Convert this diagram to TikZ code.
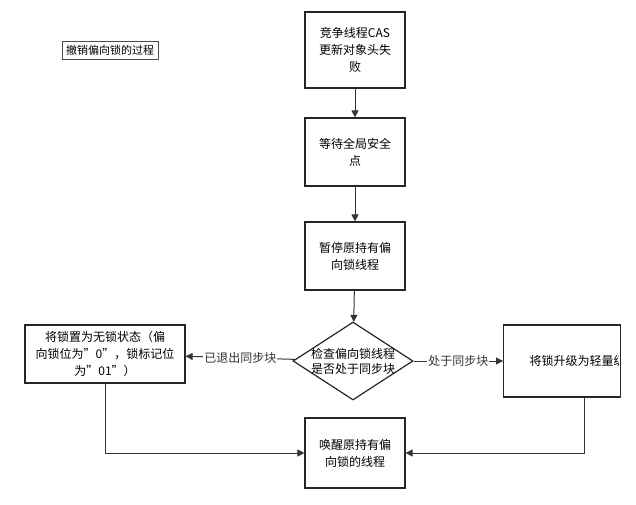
\documentclass[tikz,border=0pt]{standalone}
\usepackage{fontspec}
\setmainfont{Noto Sans CJK SC}
\usetikzlibrary{shapes.geometric,arrows.meta}
\begin{document}
\begin{tikzpicture}[x=1pt,y=-1pt,
  box/.style={draw=black!85,line width=1.2pt,fill=white,align=center,font=\fontsize{12}{17}\selectfont,inner sep=2pt},
  arr/.style={-{Triangle[length=7pt,width=7pt]},line width=1pt,black!80},
  lab/.style={font=\fontsize{12}{14}\selectfont,fill=white,inner sep=1pt}]
\useasboundingbox (0,0) rectangle (636,505);
\clip (0,0) rectangle (636,505);
\node[box,minimum width=100pt,minimum height=76pt,text width=96pt] (a) at (355,50) {竞争线程CAS\\更新对象头失\\败};
\node[box,minimum width=100pt,minimum height=68pt,text width=96pt] (b) at (355,152) {等待全局安全\\点};
\node[box,minimum width=100pt,minimum height=68pt,text width=96pt] (c) at (355,256) {暂停原持有偏\\向锁线程};
\node[draw=black!85,line width=1.2pt,diamond,aspect=1.55,minimum width=120pt,minimum height=78pt,fill=white,inner sep=0pt] (d) at (353,361) {};
\node[font=\fontsize{12}{15}\selectfont,align=center] at (353,361) {检查偏向锁线程\\是否处于同步块};
\node[box,minimum width=160pt,minimum height=58pt,text width=156pt] (l) at (105,354) {将锁置为无锁状态（偏\\向锁位为"0"，锁标记位\\为"01"）};
\node[box,minimum width=117pt,minimum height=72pt,anchor=west] (r) at (503,361) {};
\begin{scope}
\clip (504,330) rectangle (618,395);
\node[font=\fontsize{12}{15}\selectfont,anchor=west] (rt) at (526,361) {将锁升级为轻量级锁};
\end{scope}
\node[box,minimum width=100pt,minimum height=70pt,text width=96pt] (e) at (355,453) {唤醒原持有偏\\向锁的线程};
\node[draw=black!70,line width=0.6pt,font=\fontsize{11}{13}\selectfont,inner sep=4pt] (t) at (110,50) {撤销偏向锁的过程};
\draw[arr] (a) -- (b);
\draw[arr] (b) -- (c);
\draw[arr] (c) -- (d);
\draw[arr] (d) -- node[lab]{已退出同步块} (l);
\draw[arr] (d) -- node[lab]{处于同步块} (r);
\draw[arr] (l.south) |- (e.west);
\draw[arr] ([xshift=-37pt]r.south east) |- (e.east);
\end{tikzpicture}
\end{document}
